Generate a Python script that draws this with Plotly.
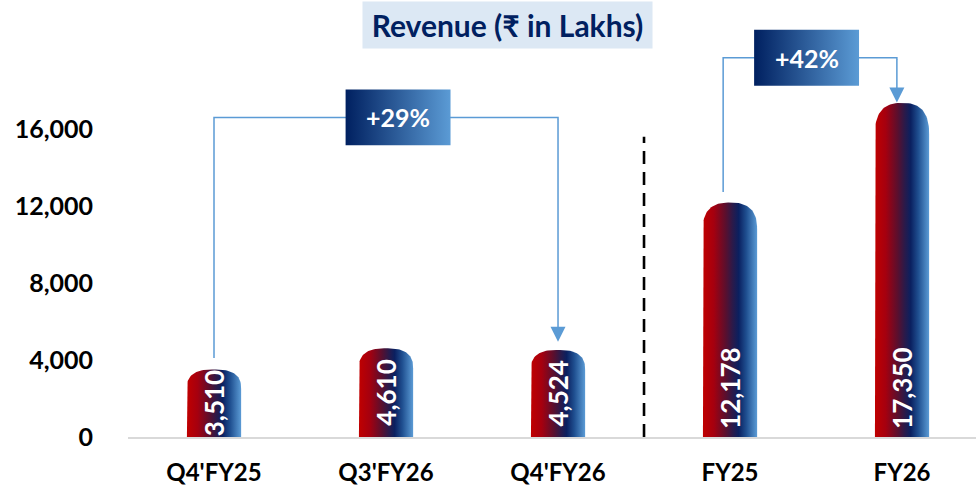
import numpy as np
import plotly.graph_objects as go

# ---------------- data ----------------
categories = ["Q4'FY25", "Q3'FY26", "Q4'FY26", "FY25", "FY26"]
revenue = [3510, 4610, 4524, 12178, 17350]
y_tick_values = [0, 4000, 8000, 12000, 16000]
growth_labels = ["+29%", "+42%"]
growth_from = [0, 3]
growth_to = [2, 4]
title_text = "Revenue (₹ in Lakhs)"

# ---------------- style ----------------
FONT = "Lato"
BAR_W = 0.315
BAR_SCALE = [[0, "#c00000"], [0.2, "#a5000f"], [0.42, "#5a0f2e"], [0.55, "#2a1a4a"],
             [0.66, "#0a2060"], [0.8, "#1f4f90"], [1, "#5b9bd5"]]
BOX_SCALE = [[0, "#002060"], [1, "#5b9bd5"]]
LINE_BLUE = "#5b9bd5"
Y_MAX = 22700

fig = go.Figure()

x_pos = np.arange(len(categories))

# gradient bars with rounded (superelliptical) tops
for i, v in zip(x_pos, revenue):
    x0, x1 = i - BAR_W / 2, i + BAR_W / 2
    cap = 800 + 0.05 * v
    t = np.linspace(np.pi, 0, 50)
    e = 2 / 2.6
    cx_ = np.sign(np.cos(t)) * np.abs(np.cos(t)) ** e
    cy_ = np.abs(np.sin(t)) ** e
    xs = [x0, x0] + list(i + BAR_W / 2 * cx_) + [x1, x1]
    ys = [0, v - cap] + list(v - cap + cap * cy_) + [v - cap, 0]
    fig.add_trace(go.Scatter(
        x=xs, y=ys, mode="lines", fill="toself",
        line=dict(width=0, color="rgba(0,0,0,0)"),
        fillgradient=dict(type="horizontal", start=x0, stop=x1, colorscale=BAR_SCALE),
        hoverinfo="skip", showlegend=False))

# value labels inside bars
for i, v in zip(x_pos, revenue):
    fig.add_annotation(x=i, y=min(v / 2, 2500), text=f"{v:,}", showarrow=False,
                       textangle=-90, xanchor="center", yanchor="middle",
                       font=dict(family=FONT, size=26, color="white", weight="bold"))

# growth brackets
bracket_levels = [16600, 19700]
left_offsets = [0.0, -0.04]
right_offsets = [0.0, -0.03]
start_gaps = [600, 550]
tip_gaps = [420, 30]
box_centers = [1.07, 3.445]
box_w, box_h = 0.61, 2900
for k in range(len(growth_labels)):
    a, b = growth_from[k], growth_to[k]
    lvl = bracket_levels[k]
    xa = a + left_offsets[k]
    xb = b + right_offsets[k]
    fig.add_trace(go.Scatter(
        x=[xa, xa, xb, xb], y=[revenue[a] + start_gaps[k], lvl, lvl, lvl - 100],
        mode="lines", line=dict(color=LINE_BLUE, width=1.5),
        hoverinfo="skip", showlegend=False))
    fig.add_annotation(x=xb, y=revenue[b] + tip_gaps[k], ax=xb, ay=lvl,
                       axref="x", ayref="y", xref="x", yref="y", text="",
                       showarrow=True, arrowhead=2, arrowsize=2, arrowwidth=1.5,
                       arrowcolor=LINE_BLUE, standoff=0)
    cx = box_centers[k]
    bx0, bx1 = cx - box_w / 2, cx + box_w / 2
    by0, by1 = lvl - box_h / 2, lvl + box_h / 2
    fig.add_trace(go.Scatter(
        x=[bx0, bx1, bx1, bx0, bx0], y=[by0, by0, by1, by1, by0],
        mode="lines", fill="toself", line=dict(width=0, color="rgba(0,0,0,0)"),
        fillgradient=dict(type="horizontal", start=bx0, stop=bx1, colorscale=BOX_SCALE),
        hoverinfo="skip", showlegend=False))
    fig.add_annotation(x=cx, y=lvl, text=growth_labels[k], showarrow=False,
                       font=dict(family=FONT, size=25, color="white", weight="bold"))

# dashed separator between quarterly and annual
fig.add_shape(type="line", x0=2.5, x1=2.5, y0=0, y1=15600, xref="x", yref="y",
              line=dict(color="black", width=2.6, dash="13px,8px"))

# title box
fig.add_annotation(xref="paper", yref="paper", x=0.447, y=1 - 25 / 437,
                   xanchor="center", yanchor="middle",
                   text=title_text, showarrow=False, bgcolor="#dce8f4",
                   width=283, height=40, borderpad=3,
                   font=dict(family=FONT, size=30, color="#002060", weight="bold"))

fig.update_layout(
    width=976, height=493,
    margin=dict(l=128, r=0, t=0, b=56),
    paper_bgcolor="white", plot_bgcolor="white",
    font=dict(family=FONT),
    xaxis=dict(range=[-0.5, 4.43], tickvals=list(x_pos), ticktext=categories,
               showgrid=False, zeroline=False, showline=True,
               linecolor="#d9d9d9", linewidth=2, ticks="",
               ticklabelstandoff=13,
               tickfont=dict(family=FONT, size=24, color="black", weight="bold")),
    yaxis=dict(range=[0, Y_MAX], tickvals=y_tick_values,
               ticktext=[f"{t:,}" for t in y_tick_values],
               showgrid=False, zeroline=False, showline=False, ticks="",
               ticklabelstandoff=34,
               tickfont=dict(family=FONT, size=25, color="black", weight="bold")),
    showlegend=False,
)

fig.write_html("out.html", config={"displayModeBar": False},
               post_script="document.body.style.margin='0';")
